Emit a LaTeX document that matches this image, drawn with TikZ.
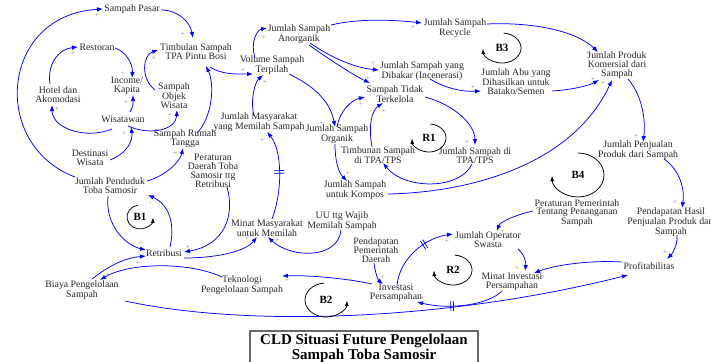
\documentclass[tikz,border=0pt]{standalone}
\usepackage{fontspec}
\setmainfont{Liberation Serif}
\usetikzlibrary{arrows.meta,calc,decorations.markings}
\begin{document}
\begin{tikzpicture}[x=1pt,y=1pt,
  var/.style={align=center,inner sep=0.5pt,font=\fontsize{9.8}{8.8}\selectfont,text=black!85},
  lnk/.style={draw=blue,line width=0.75pt,-{Latex[length=6pt,width=4.5pt]}},
  pol/.style={text=black!45,font=\fontsize{7.5}{7.5}\selectfont,inner sep=0pt},
  loopc/.style={draw=black,line width=0.75pt,-{Latex[length=5.5pt,width=4pt]}},
  lbl/.style={font=\fontsize{11}{11}\selectfont\bfseries,inner sep=0pt},
  dly/.style={postaction={decorate},decoration={markings,mark=at position #1 with {\draw[blue,line width=0.75pt,-] (-1.3,-5) -- (-1.3,5) (1.3,-5) -- (1.3,5);}}}
]
\useasboundingbox (0,0) rectangle (711,-361);
% variables
\node[var] (pasar) at (132,-9) {Sampah Pasar};
\node[var] (timb) at (196,-52) {Timbulan Sampah\\TPA Pintu Bosi};
\node[var] (resto) at (97,-47) {Restoran};
\node[var] (income) at (127,-86) {Income/\\Kapita};
\node[var] (hotel) at (58,-95) {Hotel dan\\Akomodasi};
\node[var] (objek) at (174,-96) {Sampah\\Objek\\Wisata};
\node[var] (wisa) at (123,-119) {Wisatawan};
\node[var] (rumah) at (185,-139) {Sampah Rumah\\Tangga};
\node[var] (dest) at (90,-158) {Destinasi\\Wisata};
\node[var] (pend) at (110,-186) {Jumlah Penduduk\\Toba Samosir};
\node[var] (perda) at (213,-171) {Peraturan\\Daerah Toba\\Samosir ttg\\Retribusi};
\node[var] (jmm) at (259,-122) {Jumlah Masyarakat\\yang Memilah Sampah};
\node[var] (vol) at (272,-65) {Volume Sampah\\Terpilah};
\node[var] (anorg) at (299,-34) {Jumlah Sampah\\Anorganik};
\node[var] (recy) at (455,-28) {Jumlah Sampah\\Recycle};
\node[var] (bakar) at (422,-71) {Jumlah Sampah yang\\Dibakar (Incenerasi)};
\node[var] (tidak) at (395,-94) {Sampah Tidak\\Terkelola};
\node[var] (org) at (337,-134) {Jumlah Sampah\\Organik};
\node[var] (timbtps) at (378,-155) {Timbunan Sampah\\di TPA/TPS};
\node[var] (jtps) at (475,-156) {Jumlah Sampah di\\TPA/TPS};
\node[var] (kompos) at (355,-190) {Jumlah Sampah\\untuk Kompos};
\node[var] (uu) at (342,-221) {UU ttg Wajib\\Memilah Sampah};
\node[var] (minat) at (267,-228) {Minat Masyarakat\\untuk Memilah};
\node[var] (retri) at (164,-253) {Retribusi};
\node[var] (biaya) at (82,-290) {Biaya Pengelolaan\\Sampah};
\node[var] (tekno) at (242,-285) {Teknologi\\Pengelolaan Sampah};
\node[var] (ppd) at (376,-250) {Pendapatan\\Pemerintah\\Daerah};
\node[var] (inv) at (396,-293) {Investasi\\Persampahan};
\node[var] (oper) at (488,-240) {Jumlah Operator\\Swasta};
\node[var] (pp) at (577,-213) {Peraturan Pemerintah\\Tentang Penanganan\\Sampah};
\node[var] (mininv) at (512,-282) {Minat Investasi\\Persampahan};
\node[var] (profit) at (649,-266) {Profitabilitas};
\node[var] (phps) at (671,-222) {Pendapatan Hasil\\Penjualan Produk dari\\Sampah};
\node[var] (jpen) at (638,-150) {Jumlah Penjualan\\Produk dari Sampah};
\node[var] (jprod) at (617,-65) {Jumlah Produk\\Komersial dari\\Sampah};
\node[var] (abu) at (516,-82) {Jumlah Abu yang\\Dihasilkan untuk\\Batako/Semen};
% links
\draw[lnk] ($(pend)+(-35,9)$) .. controls (-10,-145) and (0,-15) .. ($(pasar)+(-29,0)$);
\draw[lnk] ($(pasar)+(29,-1)$) .. controls (178,-10) and (190,-22) .. ($(timb)+(-3,14)$);
\draw[lnk] ($(hotel)+(-8,11)$) .. controls (47,-65) and (58,-49) .. ($(resto)+(-19,0)$);
\draw[lnk] ($(resto)+(18,-1)$) .. controls (127,-52) and (133,-65) .. ($(income)+(5,8)$);
\draw[lnk] ($(wisa)+(-11,-10)$) .. controls (85,-140) and (52,-128) .. ($(hotel)+(-6,-10)$);
\draw[lnk] ($(wisa)+(7,7)$) .. controls (133,-106) .. ($(income)+(6,-9)$);
\draw[lnk] ($(wisa)+(5,-7)$) .. controls (150,-136) and (176,-130) .. ($(objek)+(3,-14)$);
\draw[lnk] ($(dest)+(20,-2)$) .. controls (128,-153) and (133,-140) .. ($(wisa)+(8,-8)$);
\draw[lnk] ($(objek)+(-19,6)$) .. controls (140,-78) and (143,-55) .. ($(timb)+(-38,2)$);
\draw[lnk] ($(rumah)+(12,6)$) .. controls (212,-118) and (215,-85) .. ($(timb)+(10,-14)$);
\draw[lnk] ($(pend)+(37,5)$) .. controls (165,-176) and (180,-162) .. ($(rumah)+(-2,-9)$);
\draw[lnk] ($(timb)+(14,-15)$) .. controls (222,-75) and (238,-74) .. ($(vol)+(-19,-9)$);
\draw[lnk] ($(vol)+(-17,7)$) .. controls (250,-42) and (257,-30) .. ($(anorg)+(-32,6)$);
\draw[lnk] ($(jmm)+(-5,6)$) .. controls (250,-100) and (255,-82) .. ($(vol)+(-9,-10)$);
\draw[lnk] ($(vol)+(17,-9)$) .. controls (312,-85) and (330,-100) .. ($(org)+(-2,7)$);
\draw[lnk] ($(anorg)+(32,9)$) .. controls (360,-18) and (395,-20) .. ($(recy)+(-33,5)$);
\draw[lnk] ($(anorg)+(11,-9)$) .. controls (330,-57) and (355,-68) .. ($(bakar)+(-43,1)$);
\draw[lnk] ($(anorg)+(10,-11)$) .. controls (330,-60) and (355,-76) .. ($(tidak)+(-25,11)$);
\draw[lnk] ($(org)+(0,7)$) .. controls (340,-110) and (352,-100) .. ($(tidak)+(-30,-3)$);
\draw[lnk] ($(timbtps)+(-6,8)$) .. controls (368,-125) and (372,-110) .. ($(tidak)+(-12,-9)$);
\draw[lnk] ($(tidak)+(30,-3)$) .. controls (455,-105) and (475,-125) .. ($(jtps)+(0,11)$);
\draw[lnk] ($(jtps)+(-3,-8)$) .. controls (460,-190) and (405,-190) .. ($(timbtps)+(5,-8)$);
\draw[lnk] ($(bakar)+(8,-8)$) .. controls (445,-88) and (462,-92) .. ($(abu)+(-35,-9)$);
\draw[lnk] ($(abu)+(36,-9)$) .. controls (570,-90) and (588,-86) .. ($(jprod)+(-18,-15)$);
\draw[lnk] ($(recy)+(32,4)$) .. controls (530,-22) and (575,-30) .. ($(jprod)+(-19,13)$);
\draw[lnk] ($(kompos)+(33,-4)$) .. controls (480,-192) and (575,-160) .. ($(jprod)+(-5,-15)$);
\draw[lnk] ($(org)+(-2,-10)$) .. controls (335,-160) and (338,-172) .. ($(kompos)+(-8,9)$);
\draw[lnk] ($(jprod)+(11,-14)$) .. controls (642,-95) and (646,-120) .. ($(jpen)+(5,8)$);
\draw[lnk] ($(jpen)+(26,-9)$) .. controls (680,-170) and (685,-190) .. ($(phps)+(11,14)$);
\draw[lnk] ($(phps)+(6,-13)$) .. controls (678,-245) and (672,-254) .. ($(profit)+(18,7)$);
\draw[lnk] ($(profit)+(-27,4)$) .. controls (590,-260) and (555,-265) .. ($(mininv)+(22,9)$);
\draw[lnk] ($(oper)+(30,-9)$) .. controls (525,-255) and (526,-263) .. ($(mininv)+(13,11)$);
\draw[lnk] ($(pp)+(-44,2)$) .. controls (515,-215) and (500,-222) .. ($(oper)+(9,9)$);
\draw[lnk,dly=0.6] ($(mininv)+(-10,-9)$) .. controls (488,-305) and (450,-310) .. ($(inv)+(21,-9)$);
\draw[lnk,dly=0.62] ($(inv)+(1,8)$) .. controls (400,-258) and (425,-238) .. ($(oper)+(-35,6)$);
\draw[lnk] ($(inv)+(-24,9)$) .. controls (345,-278) and (305,-275) .. ($(tekno)+(40,9)$);
\draw[lnk] ($(tekno)+(-20,8)$) .. controls (190,-262) and (130,-262) .. ($(biaya)+(18,10)$);
\draw[lnk] ($(biaya)+(10,11)$) .. controls (110,-265) and (125,-258) .. ($(retri)+(-18,-3)$);
\draw[lnk] ($(retri)+(6,6)$) .. controls (175,-225) and (170,-205) .. ($(pend)+(38,-9)$);
\draw[lnk] ($(pend)+(-2,-10)$) .. controls (105,-225) and (125,-245) .. ($(retri)+(-18,3)$);
\draw[lnk] ($(perda)+(14,-16)$) .. controls (235,-215) and (225,-245) .. ($(retri)+(20,1)$);
\draw[lnk] ($(retri)+(20,-5)$) .. controls (215,-258) and (245,-252) .. ($(minat)+(-10,-9)$);
\draw[lnk] ($(uu)+(-1,-9)$) .. controls (338,-260) and (290,-258) .. ($(minat)+(1,-9)$);
\draw[lnk,dly=0.53] ($(minat)+(5,9)$) .. controls (283,-190) and (282,-150) .. ($(jmm)+(8,-10)$);
\draw[lnk] ($(biaya)+(43,-11)$) .. controls (250,-328) and (450,-320) .. ($(profit)+(-21,-9)$);
\draw[lnk] ($(ppd)+(-2,-13)$) .. controls (375,-272) and (378,-280) .. ($(inv)+(-13,9)$);
% polarities
\node[pol] (p1) at (97,-15) {+};
\node[pol] (p2) at (183,-34) {+};
\node[pol] (p3) at (73,-53) {+};
\node[pol] (p4) at (123,-73) {+};
\node[pol] (p5) at (57,-109) {+};
\node[pol] (p6) at (126,-102) {+};
\node[pol] (p7) at (170,-115) {+};
\node[pol] (p8) at (124,-133) {+};
\node[pol] (p9) at (154,-58) {+};
\node[pol] (p11) at (175,-153) {+};
\node[pol] (p12) at (243,-70) {+};
\node[pol] (p13) at (264,-37) {+};
\node[pol] (p14) at (265,-82) {+};
\node[pol] (p15) at (322,-123) {+};
\node[pol] (p16) at (413,-27) {+};
\node[pol] (p17) at (373,-63) {+};
\node[pol] (p18) at (368,-78) {+};
\node[pol] (p19) at (361,-104) {+};
\node[pol] (p20) at (384,-111) {+};
\node[pol] (p21) at (467,-142) {+};
\node[pol] (p22) at (388,-167) {+};
\node[pol] (p23) at (473,-87) {+};
\node[pol] (p24) at (593,-79) {+};
\node[pol] (p26) at (603,-83) {+};
\node[pol] (p25) at (588,-53) {+};
\node[pol] (p27) at (348,-173) {+};
\node[pol] (p28) at (636,-136) {+};
\node[pol] (p29) at (675,-202) {+};
\node[pol] (p30) at (665,-252) {+};
\node[pol] (p31) at (543,-277) {+};
\node[pol] (p32) at (517,-268) {+};
\node[pol] (p33) at (503,-231) {+};
\node[pol] (p34) at (423,-298) {+};
\node[pol] (p35) at (447,-241) {+};
\node[pol] (p36) at (287,-280) {+};
\node[pol] (p37) at (108,-275) {+};
\node[pol] (p38) at (138,-263) {+};
\node[pol] (p39) at (150,-203) {-};
\node[pol] (p40) at (141,-243) {+};
\node[pol] (p41) at (188,-247) {+};
\node[pol] (p42) at (247,-238) {+};
\node[pol] (p43) at (277,-240) {+};
\node[pol] (p44) at (262,-140) {+};
\node[pol] (p45) at (619,-273) {-};
\node[pol] (p46) at (383,-277) {+};
% loops
\coordinate (cB1) at (140,-217);
\coordinate (cB2) at (326,-300);
\coordinate (cB3) at (502,-48);
\coordinate (cB4) at (578,-175);
\coordinate (cR1) at (429,-138);
\coordinate (cR2) at (453,-270);
\draw[loopc] ($(cB1)+(100:13 and 12)$) arc[start angle=100, end angle=358, x radius=13, y radius=12];
\draw[loopc] ($(cB2)+(95:21 and 17)$) arc[start angle=95, end angle=358, x radius=21, y radius=17];
\draw[loopc] ($(cB3)+(85:19 and 15)$) arc[start angle=85, end angle=-178, x radius=19, y radius=15];
\draw[loopc] ($(cB4)+(90:26 and 22)$) arc[start angle=90, end angle=-178, x radius=26, y radius=22];
\draw[loopc] ($(cR1)+(85:17 and 14)$) arc[start angle=85, end angle=-178, x radius=17, y radius=14];
\draw[loopc] ($(cR2)+(85:19 and 15)$) arc[start angle=85, end angle=-178, x radius=19, y radius=15];
\node[lbl] (lB1) at (cB1) {B1};
\node[lbl] (lB2) at (cB2) {B2};
\node[lbl] (lB3) at (cB3) {B3};
\node[lbl] (lB4) at (cB4) {B4};
\node[lbl] (lR1) at (cR1) {R1};
\node[lbl] (lR2) at (cR2) {R2};
% title
\draw[draw=black!60,line width=1.6pt] (250,-331) rectangle (478,-368);
\node[align=center,inner sep=0pt,font=\fontsize{15}{13.5}\selectfont\bfseries] (title) at (364,-348.5) {CLD Situasi Future Pengelolaan\\Sampah Toba Samosir};
\end{tikzpicture}
\end{document}
